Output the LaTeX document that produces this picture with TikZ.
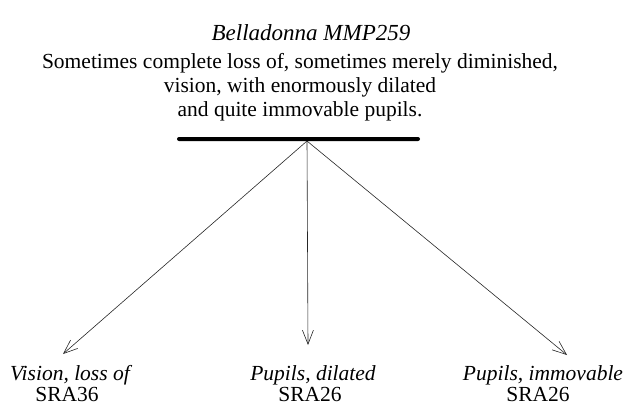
\documentclass[tikz,border=0pt]{standalone}
\usepackage{fontspec}
\setmainfont{Liberation Serif}
\usetikzlibrary{arrows.meta}
\begin{document}
\begin{tikzpicture}[x=1pt,y=-1pt,
  txt/.style={font=\fontsize{21.5}{23}\selectfont, anchor=base, inner sep=0pt},
  itxt/.style={font=\itshape\fontsize{21.5}{23}\selectfont, anchor=base, inner sep=0pt},
  conn/.style={-{Straight Barb[length=14pt,width=11pt]}, line width=0.6pt, draw=black!85}]
\useasboundingbox (0,0) rectangle (623,410);
\node[font=\itshape\fontsize{23}{25}\selectfont, anchor=base, inner sep=0pt] (title) at (311,40) {Belladonna MMP259};
\node[txt] (d1) at (300,68) {Sometimes complete loss of, sometimes merely diminished,};
\node[txt] (d2) at (300,92) {vision, with enormously dilated};
\node[txt] (d3) at (300,116) {and quite immovable pupils.};
\node[fill=black, rounded corners=2pt, minimum width=243pt, minimum height=4pt, inner sep=0pt] (bar) at (298.5,139) {};
\coordinate (src) at (307,141);
\coordinate (t1) at (63,354);
\coordinate (t2) at (308,345);
\coordinate (t3) at (567,355);
\draw[conn] (src) -- (t1);
\draw[conn] (src) -- (t2);
\draw[conn] (src) -- (t3);
\node[itxt] (l1) at (70,380) {Vision, loss of};
\node[txt] (c1) at (67,401) {SRA36};
\node[itxt] (l2) at (313,380) {Pupils, dilated};
\node[txt] (c2) at (310,401) {SRA26};
\node[itxt] (l3) at (543,380) {Pupils, immovable};
\node[txt] (c3) at (538,401) {SRA26};
\end{tikzpicture}
\end{document}
